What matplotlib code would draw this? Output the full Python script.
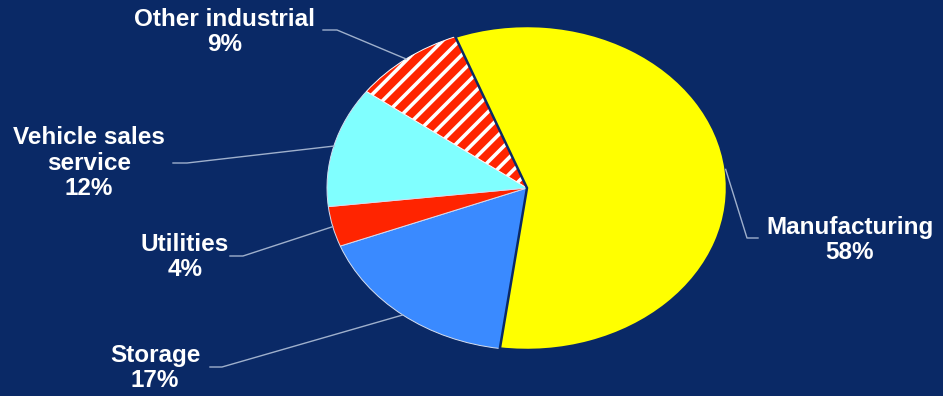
import numpy as np
import matplotlib

matplotlib.use("Agg")
import matplotlib.pyplot as plt

# data
labels = ["Manufacturing", "Storage", "Utilities", "Vehicle sales\nservice", "Other industrial"]
shares = [58, 17, 4, 12, 9]
colors = ["#ffff00", "#3a8aff", "#ff2400", "#80ffff", "#ff2400"]

NAVY = "#0a2966"
W, H = 943, 396
CX, CY, RX, RY = 527, 188, 200, 162  # pie centre / radii in pixels


def px(x, y):
    # pixel coords (top-left origin) -> axis data coords (unit pie)
    return (x - CX) / RX, (CY - y) / RY


plt.rcParams["font.family"] = ["Liberation Sans", "DejaVu Sans"]
plt.rcParams["hatch.linewidth"] = 2.6

fig = plt.figure(figsize=(W / 100, H / 100), dpi=100, facecolor=NAVY)
ax = fig.add_axes([0, 0, 1, 1])
ax.set_facecolor(NAVY)

wedges, _ = ax.pie(shares, colors=colors, startangle=111, counterclock=False,
                   wedgeprops=dict(edgecolor="#d6def0", linewidth=0.7))
wedges[0].set_edgecolor(NAVY)
wedges[0].set_linewidth(1.8)
wedges[0].set_zorder(3)
wedges[4].set_hatch("//")
wedges[4].set_edgecolor("white")

ax.set_aspect("auto")
x0, y0 = px(0, H)
x1, y1 = px(W, 0)
ax.set_xlim(x0, x1)
ax.set_ylim(y0, y1)
ax.axis("off")

# label block centre (px) and leader elbow / end (px)
label_pos = [(850, 240), (155, 368), (185, 257), (89, 163), (225, 32)]
leaders = [((747, 238), (758, 238)), ((222, 367), (210, 367)), ((243, 256), (230, 256)),
           ((187, 163), (173, 163)), ((337, 30), (323, 30))]

for w, lab, val, (lx, ly), (elb, end) in zip(wedges, labels, shares, label_pos, leaders):
    mid = np.deg2rad((w.theta1 + w.theta2) / 2)
    ex, ey = np.cos(mid), np.sin(mid)
    pts = [(ex, ey), px(*elb), px(*end)]
    ax.plot([p[0] for p in pts], [p[1] for p in pts], color="#9fb0cc", lw=1.0, zorder=4)
    tx, ty = px(lx, ly)
    ax.text(tx, ty, f"{lab}\n{val}%", color="white", fontsize=17.5, fontweight="bold",
            ha="center", va="center", linespacing=1.12, zorder=5)

fig.savefig("out.png", dpi=100, facecolor=NAVY)
